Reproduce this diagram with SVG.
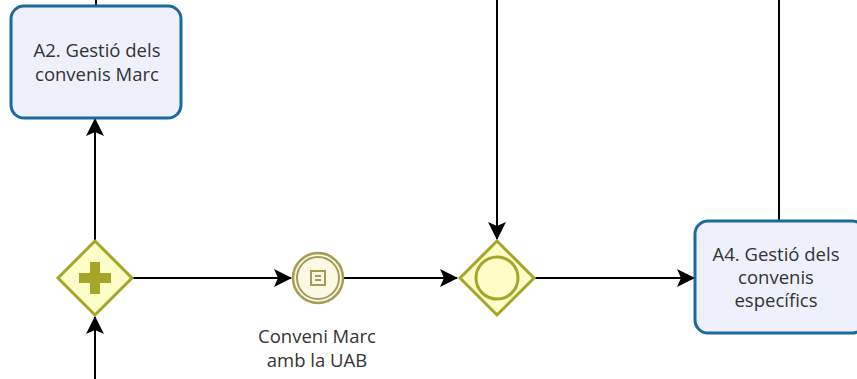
<svg xmlns="http://www.w3.org/2000/svg" width="857" height="379" viewBox="0 0 857 379">
<style>
.task{fill:#eef0fc;stroke:#1b6a9a;stroke-width:3}
.gw{fill:#fdfdc8;stroke:#a5a52a;stroke-width:3}
.lbl{font-family:"Open Sans","Noto Sans",sans-serif;font-size:18.5px;fill:#333;text-anchor:middle}
.flow{fill:none;stroke:#000;stroke-width:2}
</style>
<defs>
<marker id="arr" viewBox="0 0 18 18" refX="17" refY="9" markerWidth="18" markerHeight="18" markerUnits="userSpaceOnUse" orient="auto">
<path d="M0,0 L18,9 L0,18 L4,9 Z" fill="#000"/>
</marker>
</defs>
<g id="connectors">
<path class="flow" d="M96,0 V6"/>
<path class="flow" d="M95,240 V119" marker-end="url(#arr)"/>
<path class="flow" d="M95,379 V317" marker-end="url(#arr)"/>
<path class="flow" d="M133,278 H291" marker-end="url(#arr)"/>
<path class="flow" d="M344,278 H457" marker-end="url(#arr)"/>
<path class="flow" d="M497,0 V239" marker-end="url(#arr)"/>
<path class="flow" d="M535,278 H694" marker-end="url(#arr)"/>
<path class="flow" d="M779,0 V221"/>
</g>
<g id="A2">
<rect class="task" x="11" y="6" width="170" height="112" rx="13"/>
<text class="lbl" x="97" y="57">A2. Gestió dels</text>
<text class="lbl" x="97" y="81">convenis Marc</text>
</g>
<g id="gateway-parallel">
<path class="gw" d="M95,241 L132,278 L95,315 L58,278 Z"/>
<path d="M90,262 h10 v11 h11 v10 h-11 v11 h-10 v-11 h-11 v-10 h11 Z" fill="#a5a52a"/>
</g>
<g id="event-conveni">
<circle cx="318" cy="278" r="25" fill="#fcf8e6" stroke="#a39c55" stroke-width="2.5"/>
<circle cx="318" cy="278" r="21" fill="none" stroke="#a39c55" stroke-width="2"/>
<rect x="311" y="271" width="14" height="14" fill="none" stroke="#a39c55" stroke-width="2"/>
<path d="M315,276 h6 M315,280 h6" stroke="#a39c55" stroke-width="2"/>
<text class="lbl" x="317" y="343">Conveni Marc</text>
<text class="lbl" x="317" y="367">amb la UAB</text>
</g>
<g id="gateway-inclusive">
<path class="gw" d="M497,241 L534,278 L497,315 L460,278 Z"/>
<circle cx="497" cy="278" r="21" fill="none" stroke="#a5a52a" stroke-width="3"/>
</g>
<g id="A4">
<rect class="task" x="695" y="221" width="170" height="112" rx="13"/>
<text class="lbl" x="776" y="261">A4. Gestió dels</text>
<text class="lbl" x="776" y="284">convenis</text>
<text class="lbl" x="776" y="307">específics</text>
</g>
</svg>
